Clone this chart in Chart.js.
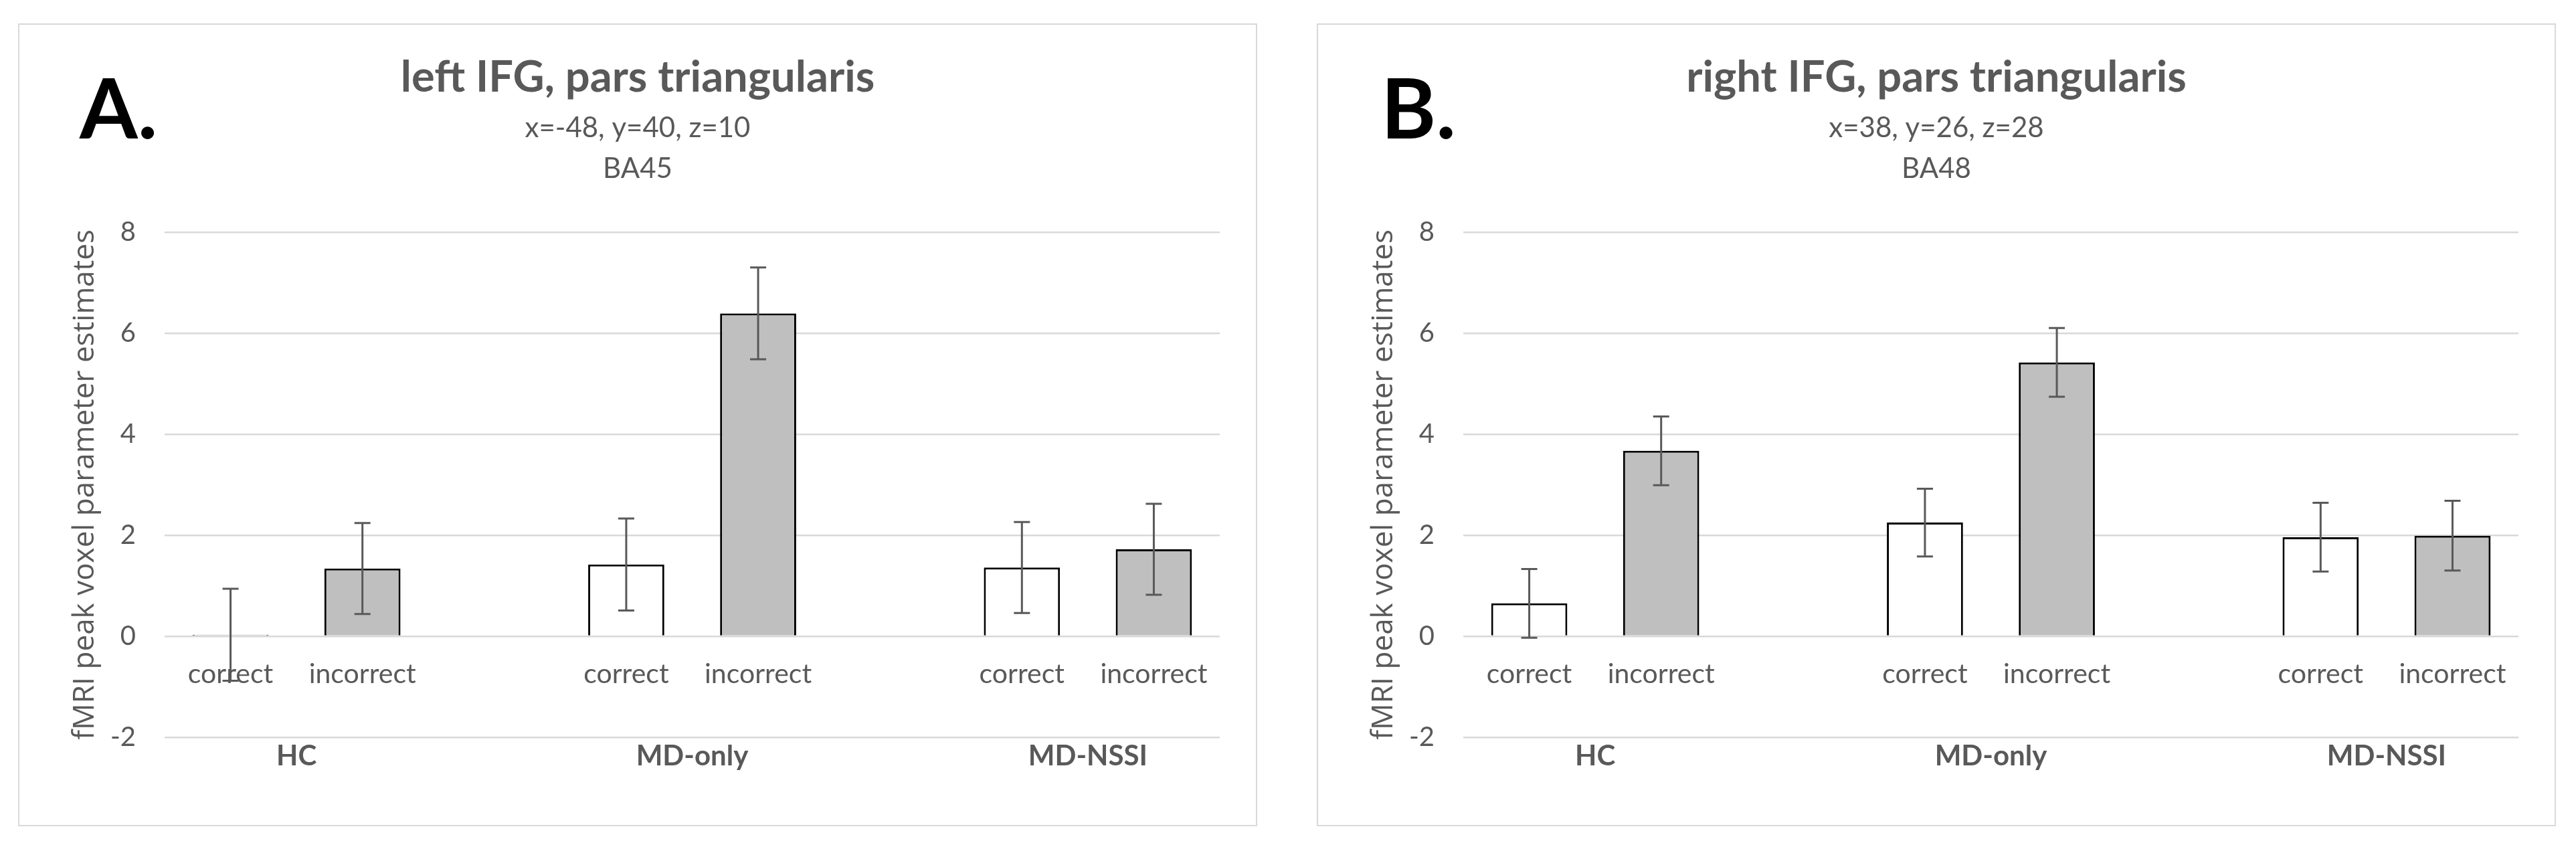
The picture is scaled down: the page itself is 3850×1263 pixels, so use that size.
<!DOCTYPE html>
<html lang="en">
<head>
<meta charset="UTF-8">
<title>IFG pars triangularis – parameter estimates</title>
<script src="https://cdn.jsdelivr.net/npm/chart.js"></script>
<style>
    body {
        margin: 0;
        width: 3850px;
        height: 1263px;
        background: #ffffff;
        position: relative;
        overflow: hidden;
    }
    .panel {
        position: absolute;
        top: 35px;
        width: 1852px;
        height: 1200px;
        border: 2px solid #d9d9d9;
        box-sizing: border-box;
    }
    #panelA { left: 27px; }
    #panelB { left: 1968px; }
    .letter {
        position: absolute;
        top: 97px;
        font-family: Lato, sans-serif;
        font-weight: 700;
        font-size: 125px;
        line-height: 1;
        color: #000000;
    }
    #letterA { left: 119px; }
    #letterB { left: 2064px; }
</style>
</head>
<body>

<div class="panel" id="panelA"><canvas id="chartA" width="1848" height="1196"></canvas></div>
<div class="panel" id="panelB"><canvas id="chartB" width="1848" height="1196"></canvas></div>
<div class="letter" id="letterA">A.</div>
<div class="letter" id="letterB">B.</div>

<script>
// x categories (blank slots separate the groups)
const categories = ['correct', 'incorrect', '', 'correct', 'incorrect', '', 'correct', 'incorrect'];
const groups = ['HC', 'MD-only', 'MD-NSSI'];
const yTicks = [-2, 0, 2, 4, 6, 8];
const yTitle = 'fMRI peak voxel parameter estimates';

// panel A: left IFG
const leftTitle = 'left IFG, pars triangularis';
const leftSubtitle = ['x=-48, y=40, z=10', 'BA45'];
const leftValues = [0.03, 1.34, null, 1.42, 6.39, null, 1.36, 1.72];
const leftErrors = [0.91, 0.90, null, 0.91, 0.91, null, 0.90, 0.90];

// panel B: right IFG
const rightTitle = 'right IFG, pars triangularis';
const rightSubtitle = ['x=38, y=26, z=28', 'BA48'];
const rightValues = [0.65, 3.67, null, 2.25, 5.42, null, 1.96, 1.99];
const rightErrors = [0.68, 0.68, null, 0.67, 0.68, null, 0.68, 0.69];

const TEXT = '#595959';

// middle index of each group of categories (groups are split by the blank slots)
function groupCenters() {
    const centers = [];
    let run = [];
    categories.forEach((c, i) => {
        if (c === '') {
            if (run.length) centers.push((run[0] + run[run.length - 1]) / 2);
            run = [];
        } else {
            run.push(i);
        }
    });
    if (run.length) centers.push((run[0] + run[run.length - 1]) / 2);
    return centers;
}
const centers = groupCenters();

// draws +/- error whiskers on top of the bars
const errorBars = {
    id: 'errorBars',
    afterDatasetsDraw(chart, args, opts) {
        const ctx = chart.ctx;
        const y = chart.scales.y;
        const values = chart.data.datasets[0].data;
        const meta = chart.getDatasetMeta(0);
        ctx.save();
        ctx.strokeStyle = TEXT;
        ctx.lineWidth = 3;
        meta.data.forEach((bar, i) => {
            if (values[i] == null) return;
            const x = bar.x;
            const top = y.getPixelForValue(values[i] + opts.errors[i]);
            const bottom = y.getPixelForValue(values[i] - opts.errors[i]);
            ctx.beginPath();
            ctx.moveTo(x, top); ctx.lineTo(x, bottom);
            ctx.moveTo(x - 12, top); ctx.lineTo(x + 12, top);
            ctx.moveTo(x - 12, bottom); ctx.lineTo(x + 12, bottom);
            ctx.stroke();
        });
        ctx.restore();
    }
};

function makeChart(id, title, subtitle, values, errors) {
    return new Chart(document.getElementById(id), {
        type: 'bar',
        data: {
            labels: categories,
            datasets: [{
                data: values,
                backgroundColor: c => categories[c.dataIndex] === 'correct' ? '#ffffff' : '#bfbfbf',
                borderColor: '#000000',
                borderWidth: 3,
                barPercentage: 0.577,
                categoryPercentage: 1.0
            }]
        },
        options: {
            responsive: false,
            animation: false,
            layout: { padding: { left: 54, right: 54, top: 0, bottom: 0 } },
            plugins: {
                legend: { display: false },
                tooltip: { enabled: false },
                title: {
                    display: true,
                    text: title,
                    color: TEXT,
                    font: { family: 'Lato', size: 65, weight: 'bold', lineHeight: 1.2 },
                    padding: { top: 40, bottom: 0 }
                },
                subtitle: {
                    display: true,
                    text: subtitle,
                    color: TEXT,
                    font: { family: 'Lato', size: 42, lineHeight: 1.45 },
                    padding: { top: 6, bottom: 64 }
                },
                errorBars: { errors: errors }
            },
            scales: {
                x: {
                    type: 'category',
                    position: { y: 0 },
                    grid: { display: false, drawTicks: false },
                    border: { display: false },
                    ticks: {
                        color: TEXT,
                        font: { family: 'Lato', size: 41 },
                        padding: 32,
                        maxRotation: 0,
                        autoSkip: false
                    }
                },
                // group names under the plot, centred on each pair of bars
                x2: {
                    type: 'linear',
                    axis: 'x',
                    position: 'bottom',
                    bounds: 'data',
                    offset: false,
                    min: -0.5,
                    max: categories.length - 0.5,
                    grid: { display: false, drawTicks: false, offset: false },
                    border: { display: false },
                    afterBuildTicks: s => { s.ticks = centers.map(v => ({ value: v })); },
                    afterFit: s => { s.height = 131; },
                    ticks: {
                        color: TEXT,
                        font: { family: 'Lato', size: 42, weight: 'bold' },
                        padding: 3,
                        maxRotation: 0,
                        autoSkip: false,
                        callback: (v, i) => groups[i]
                    }
                },
                y: {
                    min: yTicks[0],
                    max: yTicks[yTicks.length - 1],
                    afterBuildTicks: s => { s.ticks = yTicks.map(v => ({ value: v })); },
                    afterFit: s => { s.width = 163; },
                    grid: { color: '#d9d9d9', lineWidth: 2.5, drawTicks: false },
                    border: { display: false },
                    ticks: {
                        color: TEXT,
                        font: { family: 'Lato', size: 40 },
                        padding: 43
                    },
                    title: {
                        display: true,
                        text: yTitle,
                        color: TEXT,
                        font: { family: 'Open Sans', size: 44 },
                        padding: { top: 18, bottom: 0 }
                    }
                }
            }
        },
        plugins: [errorBars]
    });
}

makeChart('chartA', leftTitle, leftSubtitle, leftValues, leftErrors);
makeChart('chartB', rightTitle, rightSubtitle, rightValues, rightErrors);
</script>

</body>
</html>
